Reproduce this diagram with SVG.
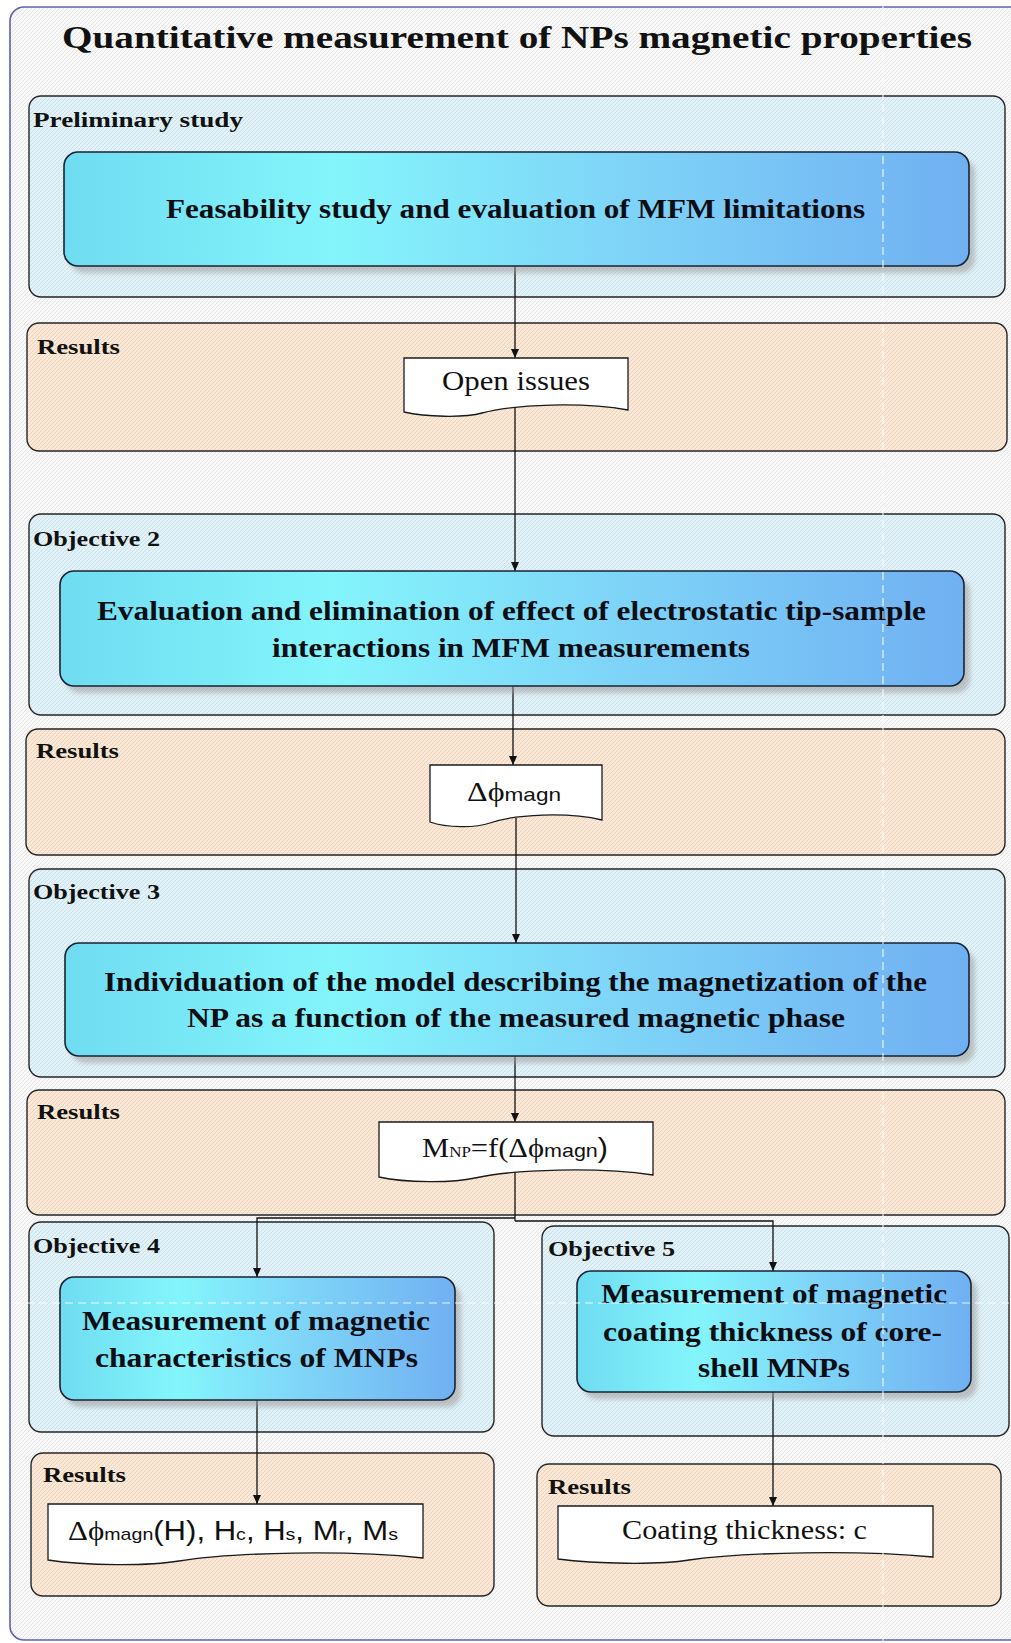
<svg xmlns="http://www.w3.org/2000/svg" width="1011" height="1643" viewBox="0 0 1011 1643">
  <style>
    .frame { fill: url(#hatch); }
    .grp-blue { fill: #e1f3fa; stroke: #262626; stroke-width: 1.4; }
    .grp-peach { fill: #fce8d4; stroke: #262626; stroke-width: 1.4; }
    .grp-label { font-family: "Liberation Serif", "Times New Roman", serif; font-weight: bold; font-size: 20px; fill: #111; }
    .proc { fill: url(#procFill); stroke: #1b2332; stroke-width: 1.6; }
    .proc-shadow { fill: #9a9a9a; opacity: 0.55; filter: url(#soft); }
    .proc-text { font-family: "Liberation Serif", "Times New Roman", serif; font-weight: bold; font-size: 28px; fill: #0d0d14; }
    .doc { fill: #ffffff; stroke: #1a1a1a; stroke-width: 1.3; }
    .doc-text { font-family: "Liberation Serif", "Times New Roman", serif; font-size: 27px; fill: #111; }
    .sans { font-family: "Liberation Sans", Arial, sans-serif; }
    .conn { fill: none; stroke: #111; stroke-width: 1.3; marker-end: url(#arrow); }
    .conn-plain { fill: none; stroke: #111; stroke-width: 1.3; }
    .guide { stroke: #ffffff; stroke-width: 1.2; stroke-dasharray: 8 5; opacity: 0.85; }
  </style>
  <defs>
    <pattern id="hatch" width="4" height="4" patternUnits="userSpaceOnUse">
      <path d="M0,4 L4,0 M-1,1 L1,-1 M3,5 L5,3" stroke="#000" stroke-opacity="0.11" stroke-width="0.8"/>
    </pattern>
    <linearGradient id="procFill" x1="0" y1="0" x2="1" y2="0">
      <stop offset="0" stop-color="#6fdcf1"/>
      <stop offset="0.3" stop-color="#84f5fb"/>
      <stop offset="0.6" stop-color="#7fd6f8"/>
      <stop offset="1" stop-color="#70b0f2"/>
    </linearGradient>
    <filter id="soft" x="-5%" y="-10%" width="110%" height="130%">
      <feGaussianBlur stdDeviation="2.5"/>
    </filter>
    <marker id="arrow" viewBox="0 0 9 8" refX="9" refY="4" markerWidth="9" markerHeight="8" markerUnits="userSpaceOnUse" orient="auto">
      <path d="M0,0 L9,4 L0,8 Z" fill="#111"/>
    </marker>
  </defs>

  <!-- page background and outer frame -->
  <rect x="0" y="0" width="1011" height="1643" fill="#ffffff"/>
  <g id="page">
    <rect x="10" y="7" width="1030" height="1633" rx="14" fill="#f9f9f9" stroke="#6262b4" stroke-width="1.6"/>
    <rect x="10" y="7" width="1030" height="1633" rx="14" class="frame"/>
    <text x="62" y="48" textLength="910" lengthAdjust="spacingAndGlyphs" font-family="Liberation Serif, Times New Roman, serif" font-weight="bold" font-size="32" fill="#111">Quantitative measurement of NPs magnetic properties</text>
  </g>

  <!-- swimlane groups -->
  <g id="lane-preliminary">
    <rect x="29" y="96" width="976" height="201" rx="12" class="grp-blue"/>
    <rect x="29" y="96" width="976" height="201" rx="12" class="frame"/>
    <text x="33" y="127" textLength="210" lengthAdjust="spacingAndGlyphs" class="grp-label">Preliminary study</text>
  </g>
  <g id="lane-results-1">
    <rect x="27" y="323" width="980" height="128" rx="12" class="grp-peach"/>
    <rect x="27" y="323" width="980" height="128" rx="12" class="frame"/>
    <text x="37" y="354" textLength="83" lengthAdjust="spacingAndGlyphs" class="grp-label">Results</text>
  </g>
  <g id="lane-objective-2">
    <rect x="29" y="514" width="976" height="201" rx="12" class="grp-blue"/>
    <rect x="29" y="514" width="976" height="201" rx="12" class="frame"/>
    <text x="33" y="546" textLength="127" lengthAdjust="spacingAndGlyphs" class="grp-label">Objective 2</text>
  </g>
  <g id="lane-results-2">
    <rect x="26" y="729" width="979" height="126" rx="12" class="grp-peach"/>
    <rect x="26" y="729" width="979" height="126" rx="12" class="frame"/>
    <text x="36" y="758" textLength="83" lengthAdjust="spacingAndGlyphs" class="grp-label">Results</text>
  </g>
  <g id="lane-objective-3">
    <rect x="29" y="869" width="976" height="208" rx="12" class="grp-blue"/>
    <rect x="29" y="869" width="976" height="208" rx="12" class="frame"/>
    <text x="33" y="899" textLength="127" lengthAdjust="spacingAndGlyphs" class="grp-label">Objective 3</text>
  </g>
  <g id="lane-results-3">
    <rect x="27" y="1090" width="978" height="125" rx="12" class="grp-peach"/>
    <rect x="27" y="1090" width="978" height="125" rx="12" class="frame"/>
    <text x="37" y="1119" textLength="83" lengthAdjust="spacingAndGlyphs" class="grp-label">Results</text>
  </g>
  <g id="lane-objective-4">
    <rect x="29" y="1222" width="465" height="210" rx="12" class="grp-blue"/>
    <rect x="29" y="1222" width="465" height="210" rx="12" class="frame"/>
    <text x="33" y="1253" textLength="127" lengthAdjust="spacingAndGlyphs" class="grp-label">Objective 4</text>
  </g>
  <g id="lane-objective-5">
    <rect x="542" y="1226" width="467" height="210" rx="12" class="grp-blue"/>
    <rect x="542" y="1226" width="467" height="210" rx="12" class="frame"/>
    <text x="548" y="1256" textLength="127" lengthAdjust="spacingAndGlyphs" class="grp-label">Objective 5</text>
  </g>
  <g id="lane-results-4">
    <rect x="31" y="1453" width="463" height="143" rx="12" class="grp-peach"/>
    <rect x="31" y="1453" width="463" height="143" rx="12" class="frame"/>
    <text x="43" y="1482" textLength="83" lengthAdjust="spacingAndGlyphs" class="grp-label">Results</text>
  </g>
  <g id="lane-results-5">
    <rect x="537" y="1464" width="464" height="142" rx="12" class="grp-peach"/>
    <rect x="537" y="1464" width="464" height="142" rx="12" class="frame"/>
    <text x="548" y="1494" textLength="83" lengthAdjust="spacingAndGlyphs" class="grp-label">Results</text>
  </g>

  <!-- connectors -->
  <g id="connectors">
    <path class="conn" d="M515,266 V358"/>
    <path class="conn" d="M515,407 V571"/>
    <path class="conn" d="M513,686 V765"/>
    <path class="conn" d="M516,818 V943"/>
    <path class="conn" d="M515,1056 V1122"/>
    <path class="conn-plain" d="M515,1170 V1221"/>
    <path class="conn" d="M515,1218 H257 V1277"/>
    <path class="conn" d="M515,1221 H773 V1271"/>
    <path class="conn" d="M257,1400 V1504"/>
    <path class="conn" d="M773,1392 V1506"/>
  </g>

  <!-- process steps -->
  <g id="step-feasibility">
    <rect x="70" y="159" width="905" height="114" rx="14" class="proc-shadow"/>
    <rect x="64" y="152" width="905" height="114" rx="14" class="proc"/>
    <text x="166" y="218" textLength="699" lengthAdjust="spacingAndGlyphs" class="proc-text">Feasability study and evaluation of MFM limitations</text>
  </g>
  <g id="doc-open-issues">
    <path class="doc" d="M404,358 H628 V410 C583,402 516,404 482,413 C464,418 426,417 404,412 Z"/>
    <text x="442" y="390" textLength="148" lengthAdjust="spacingAndGlyphs" class="doc-text">Open issues</text>
  </g>
  <g id="step-electrostatic">
    <rect x="66" y="578" width="904" height="115" rx="14" class="proc-shadow"/>
    <rect x="60" y="571" width="904" height="115" rx="14" class="proc"/>
    <text x="97" y="620" textLength="829" lengthAdjust="spacingAndGlyphs" class="proc-text">Evaluation and elimination of effect of electrostatic tip-sample</text>
    <text x="272" y="657" textLength="478" lengthAdjust="spacingAndGlyphs" class="proc-text">interactions in MFM measurements</text>
  </g>
  <g id="doc-phase">
    <path class="doc" d="M430,765 H602 V820 C568,812 516,814 490,823 C476,828 447,828 430,822 Z"/>
    <text x="467" y="801" textLength="94" lengthAdjust="spacingAndGlyphs" class="doc-text">Δϕ<tspan class="sans" font-size="19">magn</tspan></text>
  </g>
  <g id="step-model">
    <rect x="71" y="950" width="904" height="113" rx="14" class="proc-shadow"/>
    <rect x="65" y="943" width="904" height="113" rx="14" class="proc"/>
    <text x="104" y="991" textLength="823" lengthAdjust="spacingAndGlyphs" class="proc-text">Individuation of the model describing the magnetization of the</text>
    <text x="187" y="1027" textLength="658" lengthAdjust="spacingAndGlyphs" class="proc-text">NP as a function of the measured magnetic phase</text>
  </g>
  <g id="doc-model">
    <path class="doc" d="M379,1122 H653 V1175 C598,1167 516,1169 475,1178 C453,1183 406,1183 379,1177 Z"/>
    <text x="422" y="1157" textLength="186" lengthAdjust="spacingAndGlyphs" class="doc-text">M<tspan font-size="15">NP</tspan>=f(Δϕ<tspan class="sans" font-size="19">magn</tspan><tspan class="sans">)</tspan></text>
  </g>
  <g id="step-characteristics">
    <rect x="66" y="1284" width="395" height="123" rx="14" class="proc-shadow"/>
    <rect x="60" y="1277" width="395" height="123" rx="14" class="proc"/>
    <text x="82" y="1330" textLength="348" lengthAdjust="spacingAndGlyphs" class="proc-text">Measurement of magnetic</text>
    <text x="95" y="1367" textLength="323" lengthAdjust="spacingAndGlyphs" class="proc-text">characteristics of MNPs</text>
  </g>
  <g id="step-coating">
    <rect x="583" y="1278" width="394" height="121" rx="14" class="proc-shadow"/>
    <rect x="577" y="1271" width="394" height="121" rx="14" class="proc"/>
    <text x="601" y="1303" textLength="346" lengthAdjust="spacingAndGlyphs" class="proc-text">Measurement of magnetic</text>
    <text x="603" y="1341" textLength="339" lengthAdjust="spacingAndGlyphs" class="proc-text">coating thickness of core-</text>
    <text x="698" y="1377" textLength="152" lengthAdjust="spacingAndGlyphs" class="proc-text">shell MNPs</text>
  </g>
  <g id="doc-characteristics">
    <path class="doc" d="M48,1504 H423 V1558 C348,1550 236,1552 179,1561 C149,1566 86,1566 48,1560 Z"/>
    <text x="68" y="1540" textLength="330" lengthAdjust="spacingAndGlyphs" class="doc-text">Δϕ<tspan class="sans" font-size="17">magn</tspan><tspan class="sans">(H), H</tspan><tspan class="sans" font-size="17">c</tspan><tspan class="sans">, H</tspan><tspan class="sans" font-size="17">s</tspan><tspan class="sans">, M</tspan><tspan class="sans" font-size="17">r</tspan><tspan class="sans">, M</tspan><tspan class="sans" font-size="17">s</tspan></text>
  </g>
  <g id="doc-coating">
    <path class="doc" d="M558,1506 H933 V1557 C858,1550 746,1552 689,1560 C659,1565 596,1564 558,1559 Z"/>
    <text x="622" y="1539" textLength="245" lengthAdjust="spacingAndGlyphs" class="doc-text">Coating thickness: c</text>
  </g>

  <!-- faint layout guide lines -->
  <g id="guides">
    <line class="guide" x1="883" y1="0" x2="883" y2="1643"/>
    <line class="guide" x1="0" y1="1303" x2="1011" y2="1303"/>
  </g>
</svg>
